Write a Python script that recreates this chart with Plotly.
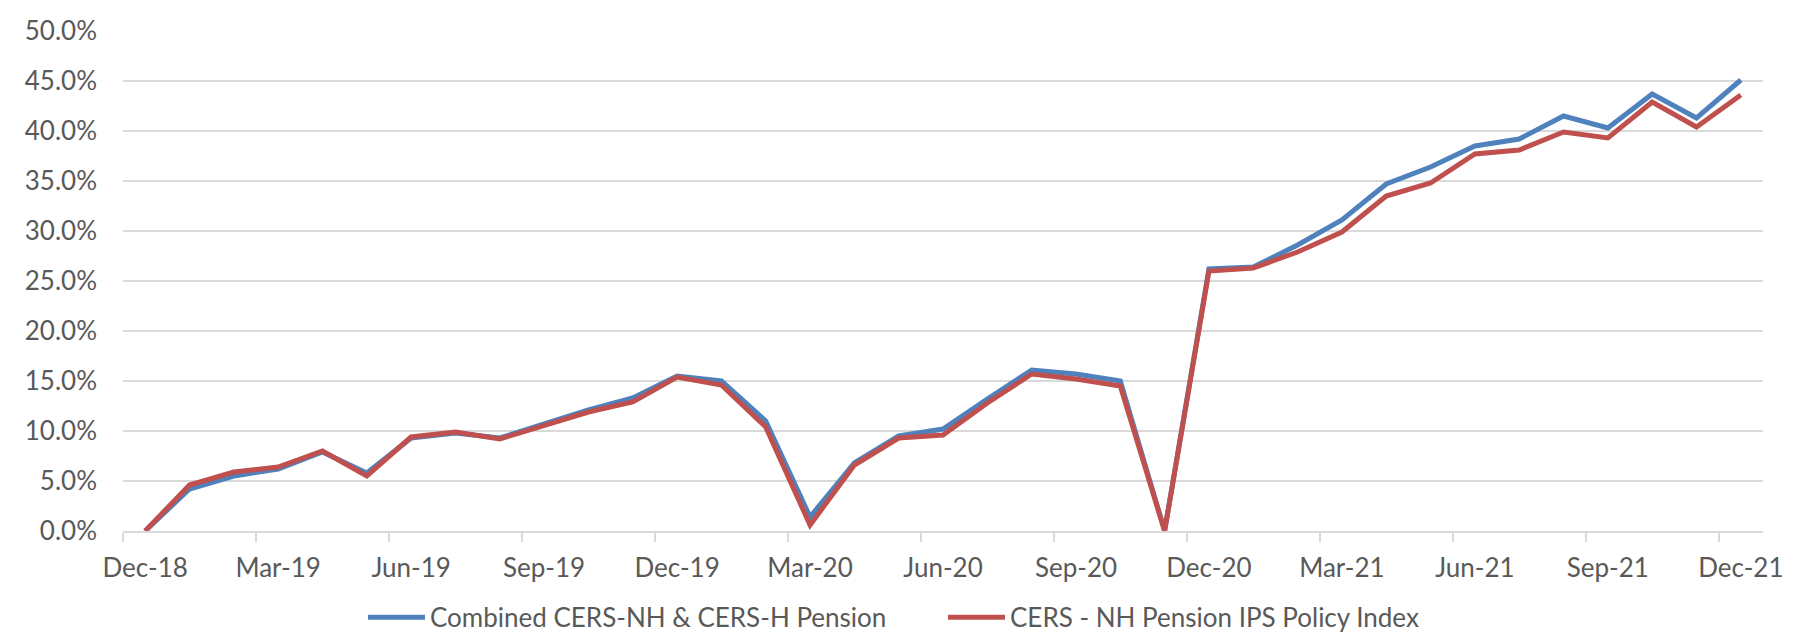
import plotly.graph_objects as go

months = ["Dec-18", "Jan-19", "Feb-19", "Mar-19", "Apr-19", "May-19", "Jun-19",
          "Jul-19", "Aug-19", "Sep-19", "Oct-19", "Nov-19", "Dec-19",
          "Jan-20", "Feb-20", "Mar-20", "Apr-20", "May-20", "Jun-20",
          "Jul-20", "Aug-20", "Sep-20", "Oct-20", "Nov-20", "Dec-20",
          "Jan-21", "Feb-21", "Mar-21", "Apr-21", "May-21", "Jun-21",
          "Jul-21", "Aug-21", "Sep-21", "Oct-21", "Nov-21", "Dec-21"]

combined = [0.0, 4.2, 5.5, 6.2, 7.9, 5.8, 9.3, 9.8, 9.3, 10.7, 12.1, 13.3, 15.5,
            15.0, 11.0, 1.4, 6.8, 9.5, 10.2, 13.2, 16.1, 15.7, 15.0, 0.0, 26.2,
            26.4, 28.6, 31.1, 34.7, 36.4, 38.5, 39.2, 41.5, 40.3, 43.7, 41.3, 45.1]

policy = [0.0, 4.6, 5.9, 6.4, 8.0, 5.5, 9.4, 9.9, 9.2, 10.6, 11.9, 12.9, 15.4,
          14.6, 10.4, 0.6, 6.6, 9.3, 9.6, 12.8, 15.7, 15.2, 14.5, 0.0, 26.0,
          26.3, 27.9, 29.9, 33.5, 34.8, 37.7, 38.1, 39.9, 39.3, 42.9, 40.4, 43.6]

names = ["Combined CERS-NH & CERS-H Pension", "CERS - NH Pension IPS Policy Index"]
colors = ["#4F81BD", "#C0504D"]

FONT = "Lato, 'Noto Sans', sans-serif"
TXT = "#595959"

fig = go.Figure()
for vals, nm, col in zip([combined, policy], names, colors):
    fig.add_trace(go.Scatter(
        x=months, y=[v / 100 for v in vals], mode="lines", name=nm,
        line=dict(color=col, width=5),
    ))

fig.update_layout(
    width=1793, height=636,
    margin=dict(l=115, r=38, t=23, b=113),
    paper_bgcolor="white", plot_bgcolor="white",
    font=dict(family=FONT, size=26, color=TXT),
    legend=dict(orientation="h", xref="container", yref="container",
                x=355 / 1793, xanchor="left", y=0.042, yanchor="middle",
                font=dict(size=26, color=TXT), itemwidth=57,
                entrywidth=508, entrywidthmode="pixels",
                traceorder="normal"),
    showlegend=True,
)
fig.update_yaxes(range=[0, 0.5], dtick=0.05, tickformat=".1%",
                 showgrid=True, gridcolor="#D9D9D9", gridwidth=1.5,
                 zeroline=False, showline=False, ticks="",
                 ticklabelstandoff=25, automargin=False, fixedrange=True)
fig.update_xaxes(type="category", categoryorder="array", categoryarray=months,
                 tickmode="linear", tick0=0, dtick=3, tickangle=0,
                 tickson="boundaries", ticks="outside", ticklen=9,
                 tickcolor="#D9D9D9", tickwidth=1.5,
                 showline=True, linecolor="#D9D9D9", linewidth=1.5,
                 showgrid=False, zeroline=False, automargin=False,
                 range=[-0.5, 36.5], ticklabelstandoff=13)

fig.write_html("out.html")
